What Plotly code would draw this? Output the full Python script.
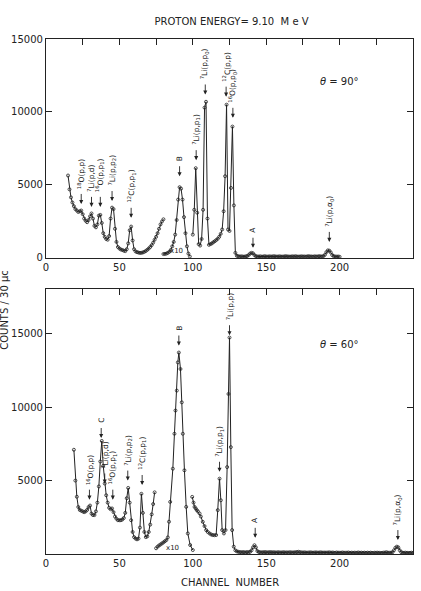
import plotly.graph_objects as go

# ---------------- DATA ----------------
# Top panel (theta = 90 deg)
top1_x = list(range(15, 81))
top1_y = [5650, 4700, 4150, 3800, 3550, 3350, 3250, 3150, 3200, 3250,
          3000, 2700, 2550, 2450, 2600, 2850, 3050, 2700, 2200, 2100,
          2300, 2900, 2950, 2400, 1700, 1450, 1300, 1250, 1500, 2700,
          3450, 3350, 2000, 1100, 750, 650, 580, 550, 500, 470,
          600, 1000, 1900, 2150, 1200, 600, 450, 400, 370, 350,
          350, 380, 420, 480, 560, 650, 750, 880, 1050, 1250,
          1450, 1700, 2000, 2300, 2500, 2650]

top2_x = list(range(80, 99))  # x10 segment
top2_y = [270, 280, 300, 350, 420, 550, 800, 1100, 1600, 2600,
          4000, 4850, 4750, 4000, 2800, 1700, 800, 300, 100]

top3_x = list(range(100, 201))
top3_y = [1600, 3300, 6150, 3100, 950, 850, 1300, 3300, 10300, 10700,
          2700, 900, 950, 1000, 1080, 1150, 1230, 1320, 1450, 1650,
          1950, 3200, 5600, 10500, 1950, 1850, 4800, 9000, 3600, 350,
          150, 120, 100, 110, 100, 90, 110, 130, 200, 300,
          350, 320, 200, 120, 100, 100, 110, 90, 100, 120,
          100, 90, 110, 100, 100, 120, 110, 90, 100, 110,
          100, 90, 100, 120, 110, 100, 90, 100, 110, 100,
          120, 100, 90, 100, 110, 100, 100, 90, 110, 120,
          100, 100, 90, 110, 100, 100, 120, 110, 100, 130,
          220, 400, 520, 500, 380, 200, 120, 100, 90, 100,
          80]

# Bottom panel (theta = 60 deg)
bot1_x = list(range(19, 75))
bot1_y = [7100, 5000, 3900, 3200, 3000, 2950, 2900, 2850, 2900, 3000,
          3200, 3300, 2750, 2650, 2650, 2900, 3500, 4600, 6300, 7700,
          6000, 4800, 4000, 3500, 3150, 3050, 3100, 2850, 2550, 2400,
          2300, 2300, 2300, 2350, 2450, 2800, 3800, 4500, 3500, 2300,
          1500, 1150, 1050, 1000, 1050, 1800, 4100, 2800, 1500, 1150,
          1200, 1500, 2000, 2700, 3400, 4200]

bot2_x = [75, 76, 77, 78, 79, 80, 81, 82, 83, 83.8, 84.6, 86.4, 87.5, 88.2, 89.1,
          89.8, 90.5, 91.6, 92.5, 93.2, 94.3, 95.5, 96.6, 98.2, 100]  # x10 segment
bot2_y = [390, 500, 580, 650, 720, 790, 870, 950, 1130, 2200, 3550, 5810, 8190, 9770, 11130,
          13050, 13720, 12600, 10330, 8190, 5700, 3210, 1400, 610, 270]

bot3_x = [99.6, 100.5, 101.2, 102, 102.7, 103.5, 104.6, 105.5, 106.8, 108, 109.1, 110.2,
          111.4, 112.5, 113.6, 114.7, 115.9, 117, 118.2, 119.1, 120, 121.2, 122.3, 123.4,
          124.3, 125, 125.9, 126.8, 127.9, 129] + list(range(130, 251))
bot3_y = [3890, 3500, 3210, 3100, 2990, 2900, 2760, 2550, 2190, 1900, 1630, 1500,
          1400, 1330, 1290, 1280, 1290, 2990, 5130, 3660, 1630, 1400, 1630, 5920,
          10900, 14740, 7280, 1630, 500, 250,
          180, 150, 130, 120, 130, 120, 110, 130, 120, 150,
          250, 450, 600, 450, 200, 130, 120, 110, 120, 130,
          120, 110, 120, 130, 110, 120, 110, 100, 120, 110,
          100, 110, 120, 100, 110, 100, 120, 110, 100, 110,
          120, 130, 150, 120, 110, 100, 110, 100, 90, 100,
          110, 100, 90, 100, 110, 90, 100, 110, 100, 90,
          100, 90, 100, 110, 90, 100, 90, 80, 100, 90,
          80, 90, 100, 90, 80, 90, 100, 80, 90, 80,
          90, 80, 90, 100, 80, 90, 80, 90, 80, 90,
          80, 90, 80, 70, 90, 80, 90, 80, 70, 80,
          90, 100, 120, 90, 80, 90, 120, 250, 420, 500,
          450, 250, 120, 90, 80, 90, 80, 70, 80, 90,
          80]

# Peak labels
top_labels = ["<sup>18</sup>O(p,p)", "<sup>7</sup>Li(p,d)", "<sup>16</sup>O(p,p<sub>1</sub>)",
              "<sup>7</sup>Li(p,p<sub>2</sub>)", "<sup>12</sup>C(p,p<sub>1</sub>)", "B",
              "<sup>7</sup>Li(p,p<sub>1</sub>)", "<sup>7</sup>Li(p,p<sub>0</sub>)",
              "<sup>12</sup>C(p,p)", "<sup>16</sup>O(p,p<sub>0</sub>)", "A",
              "<sup>7</sup>Li(p,α<sub>0</sub>)"]
top_label_x = [24, 31, 37, 45, 58, 91, 102.3, 108.5, 122.7, 127.3, 141, 193]
top_label_y = [3700, 3500, 3500, 3900, 2750, 5600, 6700, 11200, 11050, 9600, 700, 1100]

bot_labels = ["<sup>16</sup>O(p,p)", "C", "<sup>7</sup>Li(p,d)", "<sup>16</sup>O(p,p<sub>1</sub>)",
              "<sup>7</sup>Li(p,p<sub>2</sub>)", "<sup>12</sup>C(p,p<sub>1</sub>)", "B",
              "<sup>7</sup>Li(p,p<sub>1</sub>)", "<sup>7</sup>Li(p,p)", "A",
              "<sup>7</sup>Li(p,α<sub>0</sub>)"]
bot_label_x = [29.6, 37.6, 40, 45.5, 55.7, 65.5, 90.5, 118.2, 125, 142.5, 239.7]
bot_label_y = [3700, 7900, 4800, 3700, 5000, 4700, 14200, 5600, 14900, 1100, 950]

x_ticks = [0, 50, 100, 150, 200, 250]
x_minor = [25, 50, 75, 100, 125, 150, 175, 200, 225]
top_y_ticks = [0, 5000, 10000, 15000]
bot_y_ticks = [5000, 10000, 15000]

# ---------------- FIGURE ----------------
INK = "#222222"
FONT = "DejaVu Sans"

fig = go.Figure()

def seg(x, y, xa, ya):
    fig.add_trace(go.Scatter(
        x=x, y=y, xaxis=xa, yaxis=ya, mode="lines+markers",
        line=dict(color=INK, width=1),
        marker=dict(symbol="circle-open", size=3, color=INK, line=dict(width=0.8)),
        showlegend=False, hoverinfo="skip"))

seg(top1_x, top1_y, "x", "y")
seg(top2_x, top2_y, "x", "y")
seg(top3_x, top3_y, "x", "y")
seg(bot1_x, bot1_y, "x2", "y2")
seg(bot2_x, bot2_y, "x2", "y2")
seg(bot3_x, bot3_y, "x2", "y2")
# invisible traces so the top-tick overlay axes exist
fig.add_trace(go.Scatter(x=[None], y=[None], xaxis="x3", yaxis="y", showlegend=False))
fig.add_trace(go.Scatter(x=[None], y=[None], xaxis="x4", yaxis="y2", showlegend=False))

axis_common = dict(showgrid=False, zeroline=False, showline=True, linecolor=INK,
                   linewidth=1.2, tickfont=dict(family=FONT, size=10, color=INK))

TOP_DOM = [0.5748, 1.0]
BOT_DOM = [0.0, 0.5146]

fig.update_layout(
    width=421, height=591,
    margin=dict(l=46, r=8, t=39, b=37),
    paper_bgcolor="white", plot_bgcolor="white",
    font=dict(family=FONT, color=INK),
    title=dict(text="PROTON ENERGY= 9.10  M e V", x=0.55, xanchor="center",
               y=1 - 21 / 591, yanchor="middle", font=dict(size=10, family=FONT, color=INK)),
    xaxis=dict(axis_common, anchor="y", range=[0, 250], mirror=True, ticks="",
               tickvals=x_ticks, ticktext=[str(v) for v in x_ticks]),
    xaxis3=dict(overlaying="x", anchor="y", side="top", range=[0, 250], ticks="inside",
                ticklen=6, tickcolor=INK, tickwidth=1, tickvals=x_minor,
                showticklabels=False, showgrid=False, zeroline=False, showline=False),
    yaxis=dict(axis_common, domain=TOP_DOM, anchor="x", range=[0, 15000], mirror="ticks",
               ticks="inside", ticklen=6, tickcolor=INK, tickvals=top_y_ticks,
               ticktext=[str(v) for v in top_y_ticks]),
    xaxis2=dict(axis_common, anchor="y2", range=[0, 250], mirror=True, ticks="",
                tickvals=x_ticks, ticktext=[str(v) for v in x_ticks]),
    xaxis4=dict(overlaying="x2", anchor="y2", side="top", range=[0, 250], ticks="inside",
                ticklen=6, tickcolor=INK, tickwidth=1, tickvals=x_minor,
                showticklabels=False, showgrid=False, zeroline=False, showline=False),
    yaxis2=dict(axis_common, domain=BOT_DOM, anchor="x2", range=[0, 18050], mirror="ticks",
                ticks="inside", ticklen=6, tickcolor=INK, tickvals=bot_y_ticks,
                ticktext=[str(v) for v in bot_y_ticks]),
)

def add_labels(xr, yr, xs, ys, texts):
    for x, y, t in zip(xs, ys, texts):
        fig.add_annotation(x=x, y=y, xref=xr, yref=yr, text=" ", showarrow=True,
                           ax=0, ay=-12, arrowhead=2, arrowsize=0.9, arrowwidth=0.9,
                           arrowcolor=INK, standoff=0, font=dict(size=1))
        fig.add_annotation(x=x, y=y, xref=xr, yref=yr, text=t, showarrow=False,
                           textangle=-90, xanchor="center", yanchor="bottom", yshift=13,
                           font=dict(family=FONT, size=7.5, color=INK))

add_labels("x", "y", top_label_x, top_label_y, top_labels)
add_labels("x2", "y2", bot_label_x, bot_label_y, bot_labels)

fig.add_annotation(x=200, y=12100, xref="x", yref="y", text="<i>θ</i> = 90°",
                   showarrow=False, font=dict(family=FONT, size=10, color=INK))
fig.add_annotation(x=200, y=14300, xref="x2", yref="y2", text="<i>θ</i> = 60°",
                   showarrow=False, font=dict(family=FONT, size=10, color=INK))
fig.add_annotation(x=89, y=450, xref="x", yref="y", text="x10",
                   showarrow=False, font=dict(family=FONT, size=7, color=INK))
fig.add_annotation(x=86.5, y=400, xref="x2", yref="y2", text="x10",
                   showarrow=False, font=dict(family=FONT, size=7, color=INK))
fig.add_annotation(x=0.5, y=-0.0544, xref="paper", yref="paper", text="CHANNEL  NUMBER",
                   showarrow=False, yanchor="middle",
                   font=dict(family=FONT, size=10, color=INK))
fig.add_annotation(x=-0.112, y=0.474, xref="paper", yref="paper", text="COUNTS / 30 µc",
                   showarrow=False, textangle=-90, xanchor="center", yanchor="middle",
                   font=dict(family=FONT, size=10, color=INK))

fig.write_html("out.html")
